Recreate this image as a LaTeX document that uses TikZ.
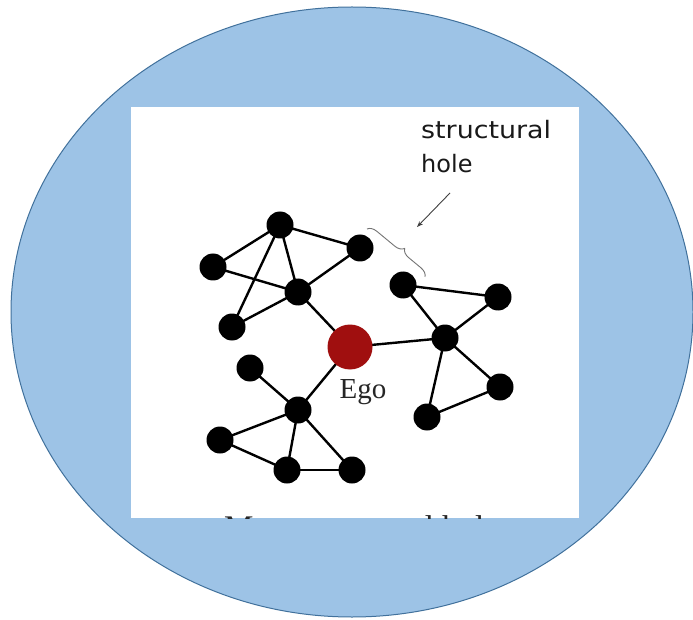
\documentclass[tikz,border=0pt]{standalone}
\usepackage{fontspec}
\setmainfont{Liberation Serif}
\newfontfamily\notefont{DejaVu Sans}
\usepackage{tikz}
\usetikzlibrary{arrows.meta,decorations.pathreplacing}

\definecolor{ovalfill}{HTML}{9DC3E6}
\definecolor{ovaldraw}{HTML}{41719C}
\definecolor{egored}{HTML}{A00F0F}

\begin{document}
\begin{tikzpicture}[x=1pt, y=-1pt,
  dot/.style={circle, fill=black, inner sep=0pt, minimum size=27pt},
  tie/.style={black, line width=2.4pt}]

  \useasboundingbox (0,0) rectangle (693,620);

  % Oval backdrop and picture frame
  \draw[ovaldraw, fill=ovalfill, line width=1pt] (352,312) ellipse [x radius=341, y radius=305];
  \fill[white] (131,107) rectangle (579,518);

  % Cluster one (top left)
  \coordinate (a1) at (280,225);
  \coordinate (a2) at (213,267);
  \coordinate (a3) at (360,248);
  \coordinate (a4) at (298,292);
  \coordinate (a5) at (232,327);

  % Cluster two (bottom left)
  \coordinate (b1) at (250,368);
  \coordinate (b2) at (298,410);
  \coordinate (b3) at (220,440);
  \coordinate (b4) at (287,470);
  \coordinate (b5) at (352,470);

  % Cluster three (right)
  \coordinate (c1) at (403,285);
  \coordinate (c2) at (498,297);
  \coordinate (c3) at (445,338);
  \coordinate (c4) at (500,387);
  \coordinate (c5) at (427,417);

  % Ego
  \coordinate (ego) at (350,347);

  \draw[tie] (a1) -- (a2);
  \draw[tie] (a1) -- (a3);
  \draw[tie] (a1) -- (a4);
  \draw[tie] (a1) -- (a5);
  \draw[tie] (a2) -- (a4);
  \draw[tie] (a4) -- (a3);
  \draw[tie] (a4) -- (a5);
  \draw[tie] (a4) -- (ego);
  \draw[tie] (ego) -- (b2);
  \draw[tie] (b1) -- (b2);
  \draw[tie] (b2) -- (b3);
  \draw[tie] (b2) -- (b4);
  \draw[tie] (b2) -- (b5);
  \draw[tie] (b3) -- (b4);
  \draw[tie] (b4) -- (b5);
  \draw[tie] (ego) -- (c3);
  \draw[tie] (c1) -- (c3);
  \draw[tie] (c1) -- (c2);
  \draw[tie] (c2) -- (c3);
  \draw[tie] (c3) -- (c4);
  \draw[tie] (c3) -- (c5);
  \draw[tie] (c5) -- (c4);

  \foreach \n in {a1,a2,a3,a4,a5,b1,b2,b3,b4,b5,c1,c2,c3,c4,c5}
    \node[dot] (\n-dot) at (\n) {};
  \node[circle, fill=egored, inner sep=0pt, minimum size=45pt] (ego-dot) at (ego) {};
  \node[font=\fontsize{29}{32}\selectfont, text=black!85] (egolbl) at (363,392) {Ego};

  % Structural hole note
  \node[font=\notefont\fontsize{24}{34}\selectfont, align=left, anchor=north west,
        inner sep=0pt, text=black!90] (note) at (421,120)
    {\scalebox{1.12}[1]{structural}\\hole};
  \coordinate (tail) at (450,193);
  \coordinate (tip) at (417,227);
  \draw[-{Stealth[length=6pt]}, black!75, line width=0.9pt] (tail) -- (tip);
  \coordinate (brs) at (367,229);
  \coordinate (bre) at (425,277);
  \draw[black!55, line width=0.9pt, decorate,
        decoration={brace, amplitude=9pt, aspect=0.55}] (brs) -- (bre);

  % Caption cut off by the frame
  \begin{scope}
    \clip (131,107) rectangle (579,518);
    \node[font=\fontsize{33}{36}\selectfont, anchor=base, text=black!85] (caption) at (368,538)
      {Many structural holes};
  \end{scope}
\end{tikzpicture}
\end{document}
